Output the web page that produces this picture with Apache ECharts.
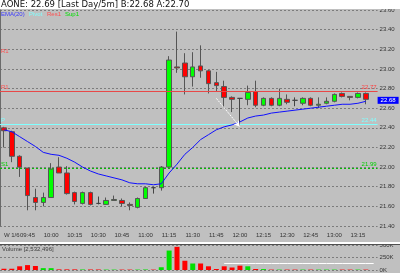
<!DOCTYPE html>
<html><head><meta charset="utf-8">
<script src="https://cdn.jsdelivr.net/npm/echarts@6/dist/echarts.min.js"></script>
<style>html,body{margin:0;padding:0;background:#c0c0c0;overflow:hidden}#c{width:400px;height:273px}</style>
</head><body><div id="c"></div>
<script>
const times = ['09:30','09:35','09:40','09:45','09:50','09:55','10:00','10:05','10:10','10:15','10:20','10:25','10:30','10:35','10:40','10:45','10:50','10:55','11:00','11:05','11:10','11:15','11:20','11:25','11:30','11:35','11:40','11:45','11:50','11:55','12:00','12:05','12:10','12:15','12:20','12:25','12:30','12:35','12:40','12:45','12:50','12:55','13:00','13:05','13:10','13:15','13:20','13:25'];
const tickLabels = ['09:45','10:00','10:15','10:30','10:45','11:00','11:15','11:30','11:45','12:00','12:15','12:30','12:45','13:00','13:15'];
const dayLabel = 'W 1/6';
const opens  = [22.40,22.36,22.11,21.99,21.69,21.64,21.69,22.00,21.94,21.74,21.63,21.74,21.63,21.62,21.66,21.66,21.62,21.59,21.68,21.79,21.79,22.00,23.02,23.06,22.92,23.03,22.98,22.86,22.82,22.71,22.70,22.69,22.77,22.63,22.70,22.63,22.69,22.68,22.65,22.70,22.63,22.65,22.67,22.75,22.72,22.71,22.75];
const closes = [22.37,22.11,22.00,21.71,21.64,21.69,21.98,21.94,21.73,21.65,21.74,21.62,21.63,21.66,21.67,21.63,21.61,21.68,21.79,21.79,22.00,23.09,23.01,22.92,23.02,22.98,22.85,22.83,22.71,22.69,22.70,22.76,22.63,22.70,22.63,22.70,22.66,22.68,22.70,22.63,22.64,22.67,22.74,22.72,22.71,22.75,22.69];
const lows   = [22.20,22.05,21.90,21.56,21.56,21.60,21.69,21.94,21.72,21.62,21.62,21.61,21.62,21.62,21.66,21.60,21.56,21.58,21.68,21.73,21.76,21.99,22.96,22.74,22.82,22.91,22.75,22.77,22.61,22.56,22.41,22.63,22.61,22.62,22.62,22.62,22.64,22.62,22.63,22.62,22.60,22.64,22.66,22.71,22.68,22.70,22.64];
const highs  = [22.41,22.37,22.12,21.99,21.78,21.74,22.04,22.10,22.01,21.75,21.75,21.75,21.70,21.69,21.71,21.68,21.64,21.69,21.80,21.80,22.01,23.13,23.38,23.16,23.17,23.24,22.99,22.97,22.88,22.72,22.70,22.83,22.88,22.71,22.71,22.80,22.74,22.71,22.71,22.71,22.71,22.71,22.75,22.76,22.72,22.76,22.76];
const ema20  = [22.38,22.36,22.31,22.26,22.21,22.15,22.13,22.12,22.09,22.05,22.00,21.96,21.93,21.91,21.89,21.87,21.84,21.83,21.83,21.82,21.83,21.94,22.03,22.13,22.20,22.28,22.33,22.38,22.41,22.43,22.46,22.50,22.52,22.53,22.55,22.56,22.57,22.58,22.59,22.60,22.61,22.62,22.63,22.64,22.64,22.65,22.67];
const volumes = [25,25,74,98,80,37,37,12,12,12,10,10,10,8,8,8,8,8,10,8,55,389,463,185,130,130,74,20,74,50,87,74,20,18,8,8,8,8,8,8,8,8,8,8,8,8,8];
const volAvgLine = [null,null,null,null,null,null,null,null,null,null,null,null,null,null,null,null,null,null,null,null,null,null,null,null,null,null,null,null,130,130,130,130,130,130,130,130,130,130,130,130,130,130,130,130,130,130,130,130];
const pivot = 22.44, res1 = 22.77, sup1 = 21.99, res1Upper = 23.14;
const emaLast = 22.68;
const arrowFrom = [26.5, 22.70], arrowTo = [29.75, 22.41];
const header = 'AONE: 22.69 [Last Day/5m] B:22.68 A:22.70';
const volumeTitle = 'Volume [2,532,496]';
const yTicks = {min: 21.4, max: 23.6, step: 0.2};
const vTicks = {min: 0, max: 500, step: 250};

const F = 'Liberation Sans';
const CLEAR = 'rgba(0,0,0,0)';
const chart = echarts.init(document.getElementById('c'), null, {renderer: 'canvas'});
const ohlc = opens.map((o, i) => [o, closes[i], lows[i], highs[i]]);
const volData = volumes.map((v, i) => ({value: v, itemStyle: {color: closes[i] > opens[i] ? '#00e000' : '#ff0000'}}));
const mlLabel = (txt, color, pos) => ({show: true, position: pos, formatter: txt, color: color, fontSize: 6, fontFamily: F, distance: 1});
const hLine = (v, color, type, txt, lblColor, pos) => ({yAxis: v, lineStyle: {color: color, type: type, width: 1, opacity: 1}, label: mlLabel(txt, lblColor, pos)});

chart.setOption({
  animation: false,
  backgroundColor: '#c0c0c0',
  grid: [
    {left: 0, top: 10, width: 377.6, height: 216},
    {left: 0, top: 245, width: 377.6, height: 27}
  ],
  xAxis: [
    {type: 'category', gridIndex: 0, data: times, boundaryGap: true,
     axisLine: {show: false}, axisTick: {show: false}, splitLine: {show: false},
     axisLabel: {interval: 0, margin: 6, fontSize: 6, fontFamily: F, color: '#333', alignMinLabel: 'left',
       formatter: (v, i) => i === 0 ? dayLabel : (tickLabels.includes(v) ? v : '')}},
    {type: 'category', gridIndex: 1, data: times, boundaryGap: true,
     axisLine: {show: false}, axisTick: {show: false}, axisLabel: {show: false}, splitLine: {show: false}}
  ],
  yAxis: [
    {type: 'value', gridIndex: 0, position: 'right', min: yTicks.min, max: yTicks.max, interval: yTicks.step,
     axisLine: {show: false}, axisTick: {show: false},
     splitLine: {show: true, lineStyle: {color: '#7c7c7c', type: [2, 2], width: 1}},
     axisLabel: {margin: 2, fontSize: 6, fontFamily: F, color: '#333', formatter: v => v.toFixed(2)}},
    {type: 'value', gridIndex: 1, position: 'right', min: vTicks.min, max: vTicks.max, interval: vTicks.step,
     axisLine: {show: false}, axisTick: {show: false},
     splitLine: {show: true, lineStyle: {color: '#7c7c7c', type: [2, 2], width: 1}},
     axisLabel: {margin: 2, fontSize: 6, fontFamily: F, color: '#333', formatter: v => v + 'K'}},
    {type: 'value', gridIndex: 0, position: 'left', min: yTicks.min, max: yTicks.max,
     axisLine: {show: true, lineStyle: {color: '#6a6a6a', width: 1}}, axisTick: {show: false},
     axisLabel: {show: false}, splitLine: {show: false}}
  ],
  series: [
    {type: 'candlestick', xAxisIndex: 0, yAxisIndex: 0, barWidth: 5, data: ohlc, z: 2,
     itemStyle: {color: '#00ff00', color0: '#ff0000', borderColor: '#555555', borderColor0: '#555555', borderColorDoji: '#444444', borderWidth: 1},
     markLine: {silent: true, symbol: 'none', animation: false, z: 5,
       data: [
         hLine(res1, CLEAR, 'solid', 'R1', '#ff5050', 'insideStartTop'),
         hLine(res1Upper, CLEAR, 'solid', 'R1', '#ff5050', 'insideStartTop'),
         hLine(pivot, CLEAR, 'solid', 'P', '#80ffff', 'insideStartTop'),
         hLine(sup1, CLEAR, 'solid', 'S1', '#00d000', 'insideStartTop'),
         [{coord: arrowFrom, symbol: 'none'},
          {coord: arrowTo, symbol: 'arrow', symbolSize: [5, 6],
           lineStyle: {color: '#ffffff', type: [2, 1], width: 1}, label: {show: false}}]
       ]}
    },
    {type: 'line', xAxisIndex: 0, yAxisIndex: 0, data: ema20, showSymbol: false, smooth: false,
     lineStyle: {color: '#1010ff', width: 1}, z: 3,
     markLine: {silent: true, symbol: 'none', animation: false, z: 1,
       data: [
         hLine(sup1, '#00c000', [2, 2], sup1.toFixed(2), '#00d000', 'insideEndTop'),
         hLine(pivot, '#80ffff', 'solid', pivot.toFixed(2), '#80ffff', 'insideEndTop'),
         {yAxis: emaLast, lineStyle: {color: CLEAR},
          label: {show: true, position: 'end', formatter: emaLast.toFixed(2), backgroundColor: '#0000ff', color: '#ffffff',
                  padding: [1, 3, 0, 3], fontSize: 6, fontFamily: F, distance: 0}}
       ]}},
    {type: 'line', xAxisIndex: 0, yAxisIndex: 0, data: [], z: 1,
     markLine: {silent: true, symbol: 'none', animation: false,
       data: [hLine(res1, '#e84848', 'solid', res1.toFixed(2), '#ff4040', 'insideEndTop')]}},
    {type: 'bar', xAxisIndex: 1, yAxisIndex: 1, barWidth: 5, data: volData},
    {type: 'line', xAxisIndex: 1, yAxisIndex: 1, data: volAvgLine, showSymbol: false, lineStyle: {color: '#ffffff', width: 1}}
  ],
  graphic: [
    {type: 'rect', left: 0, top: 0, shape: {width: 400, height: 9}, style: {fill: '#ffffff'}, z: 100},
    {type: 'text', left: 1, top: 0, z: 101, style: {text: header, fill: '#111', font: '8.5px "DejaVu Sans"'}},
    {type: 'text', left: 1, top: 11, z: 101, style: {text: 'EMA(20)', fill: '#3a3aff', font: '6px "Liberation Sans"'}},
    {type: 'text', left: 29, top: 11, z: 101, style: {text: 'Pivot', fill: '#80ffff', font: '6px "Liberation Sans"'}},
    {type: 'text', left: 47, top: 11, z: 101, style: {text: 'Res1', fill: '#ff5050', font: '6px "Liberation Sans"'}},
    {type: 'text', left: 65, top: 11, z: 101, style: {text: 'Sup1', fill: '#00e000', font: '6px "Liberation Sans"'}},
    {type: 'rect', left: 0, top: 242, shape: {width: 400, height: 2}, style: {fill: '#ffffff'}, z: 100},
    {type: 'rect', left: 0, top: 244, shape: {width: 400, height: 1}, style: {fill: '#505050'}, z: 100},
    {type: 'text', left: 2, top: 246, z: 101, style: {text: volumeTitle, fill: '#404040', font: '6px "Liberation Sans"'}}
  ]
});
</script>
</body></html>
